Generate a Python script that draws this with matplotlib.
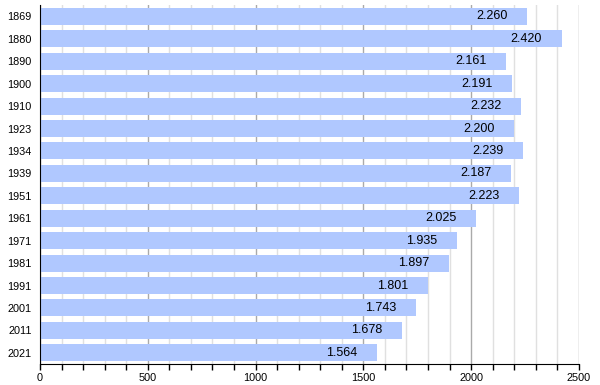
import matplotlib.pyplot as plt
from matplotlib.ticker import MultipleLocator

plt.rcParams['font.family'] = ['Liberation Sans', 'DejaVu Sans']

years = ['1869', '1880', '1890', '1900', '1910', '1923', '1934', '1939',
         '1951', '1961', '1971', '1981', '1991', '2001', '2011', '2021']
population = [2260, 2420, 2161, 2191, 2232, 2200, 2239, 2187,
              2223, 2025, 1935, 1897, 1801, 1743, 1678, 1564]
labels = ['2.260', '2.420', '2.161', '2.191', '2.232', '2.200', '2.239', '2.187',
          '2.223', '2.025', '1.935', '1.897', '1.801', '1.743', '1.678', '1.564']

fig = plt.figure(figsize=(6, 3.85), dpi=100)
ax = fig.add_axes([0.0667, 0.0545, 0.898, 0.932])

pos = range(len(years))
ax.barh(pos, population, height=0.76, color='#b0c8ff', zorder=2)
ax.set_ylim(len(years) - 0.5, -0.5)
ax.set_xlim(0, 2500)

for i, (v, lab) in enumerate(zip(population, labels)):
    ax.annotate(lab, (v, i), xytext=(-14, 0), textcoords='offset points',
                ha='right', va='center', fontsize=9, color='black', zorder=3)

ax.set_yticks(list(pos))
ax.set_yticklabels(years, fontsize=7.8)
ax.tick_params(axis='y', length=0, pad=6)

ax.xaxis.set_major_locator(MultipleLocator(500))
ax.xaxis.set_minor_locator(MultipleLocator(100))
ax.tick_params(axis='x', which='both', direction='out', length=4.5, width=1,
               labelsize=7.8, pad=2)
ax.grid(axis='x', which='major', color='#aaaaaa', linewidth=1, zorder=0)
ax.grid(axis='x', which='minor', color='#e0e0e0', linewidth=1, zorder=0)

for s in ['top', 'right']:
    ax.spines[s].set_visible(False)
ax.spines['left'].set_color('black')
ax.spines['bottom'].set_color('black')

fig.savefig('out.png', dpi=100)
